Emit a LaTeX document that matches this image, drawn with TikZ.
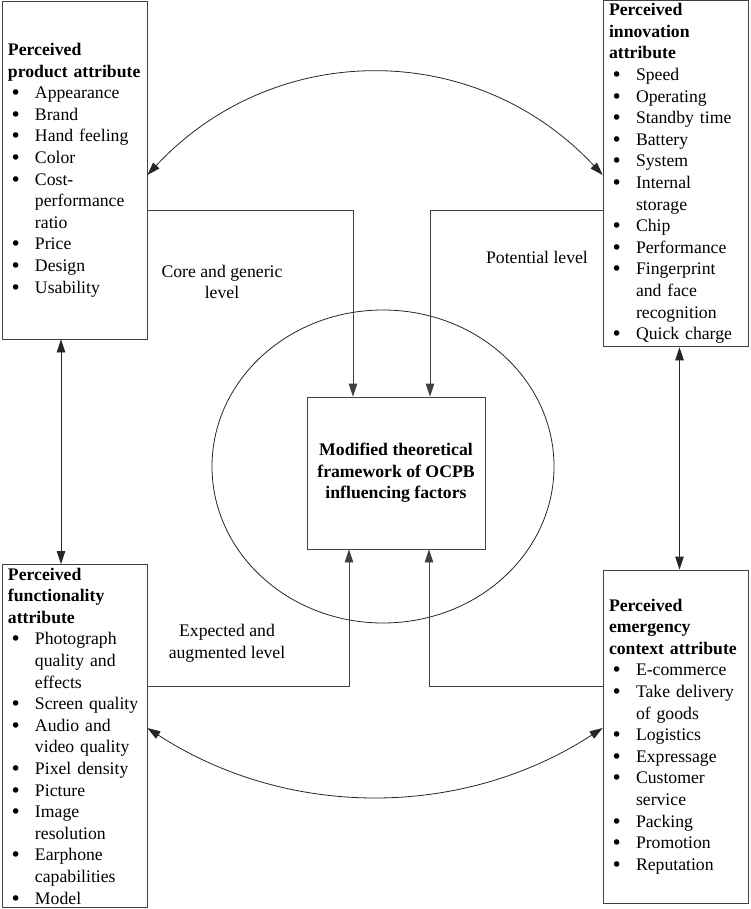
\documentclass[tikz,border=0pt]{standalone}
\usepackage{fontspec}
\setmainfont{Liberation Serif}
\newfontfamily\bulfont{DejaVu Sans}
\usepackage{tikz}
\usetikzlibrary{arrows.meta,shapes.geometric}

\newcommand{\bul}{\makebox[27pt][l]{\hspace{2pt}\smash{\raisebox{-1pt}{\bulfont\fontsize{19}{19}\selectfont •}}}}
\newcommand{\ind}{\hspace*{27pt}}

\begin{document}
\begin{tikzpicture}[x=1pt,y=-1pt,
  every node/.style={font=\fontsize{17.7}{21.6}\selectfont},
  attrbox/.style={draw=black!75,line width=0.8pt,minimum width=145pt,text width=133pt,align=left,inner xsep=6pt},
  corebox/.style={draw=black!75,line width=0.8pt,minimum width=178pt,minimum height=152pt,align=center,font=\fontsize{17.7}{21.6}\selectfont\bfseries},
  lbl/.style={align=center,inner sep=0pt},
  flow/.style={draw=black!75,line width=0.8pt,-{Triangle[length=13pt,width=8.5pt]}},
  both/.style={draw=black!85,line width=0.8pt,{Triangle[length=13pt,width=8.5pt]}-{Triangle[length=13pt,width=8.5pt]}}]
  \useasboundingbox (0,0) rectangle (750,909);
  \node[draw=black!85,line width=0.8pt,ellipse,minimum width=342pt,minimum height=313pt] (frame) at (383,466.5) {};
  \node[corebox] (core) at (396,473) {Modified theoretical\\framework of OCPB\\influencing factors};
  \node[attrbox,minimum height=338pt] (product) at (74.5,170) {\textbf{Perceived}\\
    \textbf{product attribute}\\
    \bul Appearance\\ \bul Brand\\ \bul Hand feeling\\ \bul Color\\
    \bul Cost-\\ \ind performance\\ \ind ratio\\
    \bul Price\\ \bul Design\\ \bul Usability};
  \node[attrbox,minimum height=339pt] (innovation) at (675.5,173.5) {\textbf{Perceived}\\
    \textbf{innovation}\\ \textbf{attribute}\\
    \bul Speed\\ \bul Operating\\ \bul Standby time\\ \bul Battery\\ \bul System\\
    \bul Internal\\ \ind storage\\ \bul Chip\\ \bul Performance\\
    \bul Fingerprint\\ \ind and face\\ \ind recognition\\ \bul Quick charge};
  \node[attrbox,minimum height=338pt] (functionality) at (74.5,736) {\textbf{Perceived}\\
    \textbf{functionality}\\ \textbf{attribute}\\
    \bul Photograph\\ \ind quality and\\ \ind effects\\ \bul Screen quality\\
    \bul Audio and\\ \ind video quality\\ \bul Pixel density\\ \bul Picture\\
    \bul Image\\ \ind resolution\\ \bul Earphone\\ \ind capabilities\\ \bul Model};
  \node[attrbox,minimum height=333pt] (emergency) at (675.5,736.5) {\textbf{Perceived}\\
    \textbf{emergency}\\ \textbf{context attribute}\\
    \bul E-commerce\\ \bul Take delivery\\ \ind of goods\\ \bul Logistics\\
    \bul Expressage\\ \bul Customer\\ \ind service\\ \bul Packing\\
    \bul Promotion\\ \bul Reputation};
  \node[lbl] (corelevel) at (222,282) {Core and generic\\level};
  \node[lbl] (potlevel) at (537,257) {Potential level};
  \node[lbl] (explevel) at (227,643) {Expected and\\augmented level};
  \draw[flow] ([yshift=-40pt]product.east) -| ([xshift=-43pt]core.north);
  \draw[flow] ([yshift=-36.5pt]innovation.west) -| ([xshift=34pt]core.north);
  \draw[flow] ([yshift=50pt]functionality.east) -| ([xshift=-47pt]core.south);
  \draw[flow] ([yshift=50.5pt]emergency.west) -| ([xshift=33pt]core.south);
  \draw[both] ([xshift=-13.5pt]product.south) -- ([xshift=-13.5pt]functionality.north);
  \draw[both] ([xshift=4pt]innovation.south) -- ([xshift=4pt]emergency.north);
  \draw[both] ([yshift=-5pt]product.east) .. controls +(127,-136) and +(-127,-136) .. ([yshift=-1.5pt]innovation.west);
  \draw[both] ([yshift=8pt]functionality.east) .. controls +(140,91) and +(-140,91) .. ([yshift=8.5pt]emergency.west);
\end{tikzpicture}
\end{document}
